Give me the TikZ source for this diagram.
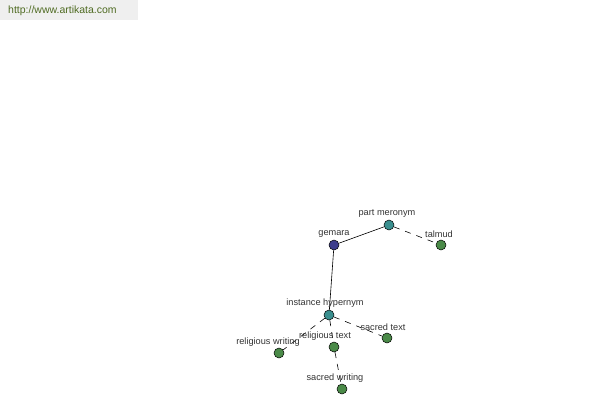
\documentclass[tikz,border=0pt]{standalone}
\usepackage{fontspec}
\setmainfont{Liberation Sans}
\usetikzlibrary{positioning}

\definecolor{hubblue}{HTML}{3C3C8C}
\definecolor{relteal}{HTML}{3A8F8F}
\definecolor{wordgreen}{HTML}{4A8A48}
\definecolor{markgray}{HTML}{EFEFEF}
\definecolor{markgreen}{HTML}{4F6B22}

\begin{document}
\begin{tikzpicture}[x=1pt,y=-1pt,
  		dot/.style={circle,draw=black,line width=0.5pt,minimum size=10pt,inner sep=0pt},
  		hub/.style={dot,fill=hubblue},
  		rel/.style={dot,fill=relteal},
  		word/.style={dot,fill=wordgreen},
  		lbl/.style={font=\fontsize{9.2}{10}\selectfont,text=black!80,inner sep=0pt},
  		link/.style={line width=0.6pt},
  		weak/.style={line width=0.6pt,dash pattern=on 6pt off 6pt}]
    		\useasboundingbox (0,0) rectangle (600,400);
    		% Watermark
    		\fill[markgray] (0,0) rectangle (138,20);
    		\node[font=\fontsize{10.5}{11}\selectfont,text=markgreen,anchor=west,inner sep=0pt] (site) at (8,11) {http://www.artikata.com};
    		% Nodes
      		\node[hub]  (gemara)   at (334,245) {};
      		\node[rel]  (partmer)  at (389,225) {};
      		\node[word] (talmud)   at (441,245) {};
      		\node[rel]  (insthyp)  at (329,315) {};
      		\node[word] (relwrit)  at (279,353) {};
      		\node[word] (reltext)  at (334,347) {};
      		\node[word] (sactext)  at (387,338) {};
      		\node[word] (sacwrit)  at (342,389) {};
    		% Edges
      		\draw[link] (gemara) -- (partmer);
      		\draw[weak] (partmer) -- (talmud);
      		\draw[link] (gemara) -- (insthyp);
      		\draw[weak] (insthyp) -- (relwrit);
      		\draw[weak] (insthyp) -- (reltext);
      		\draw[weak] (insthyp) -- (sactext);
      		\draw[weak] (reltext) -- (sacwrit);
    		% Labels
      		\node[lbl] at (334,234) {gemara};
      		\node[lbl] at (387,213) {part meronym};
      		\node[lbl] at (439,234) {talmud};
      		\node[lbl] at (325,303) {instance hypernym};
      		\node[lbl] at (268,342) {religious writing};
      		\node[lbl] at (325,336) {religious text};
      		\node[lbl] at (383,327) {sacred text};
      		\node[lbl] at (335,378) {sacred writing};
	\end{tikzpicture}
\end{document}
